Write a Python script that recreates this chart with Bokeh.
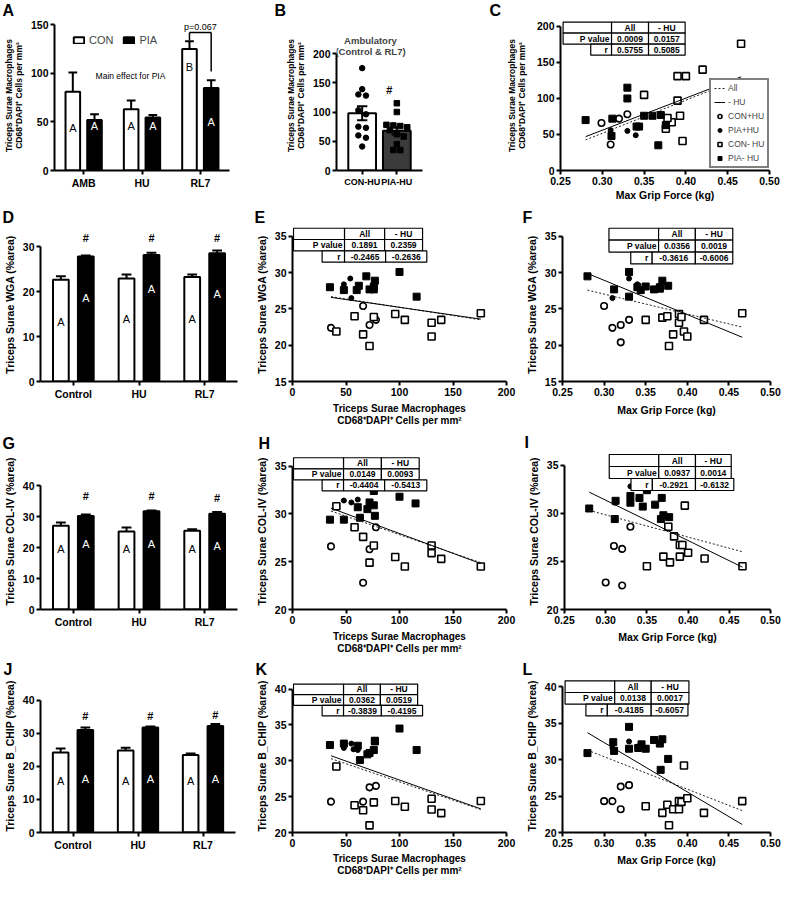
from bokeh.plotting import figure
from bokeh.models import (ColumnDataSource, FactorRange, Range1d, FixedTicker, Label,
                          Legend, LegendItem, NumeralTickFormatter)
from bokeh.transform import dodge
from bokeh.layouts import row, column
from bokeh.embed import file_html
from bokeh.resources import INLINE
from bokeh.core.properties import value

FONT = "Liberation Sans"
PAGE_W = 782

# ------------------------------------------------------------------ texts
PANEL_LETTERS = ["A", "B", "C", "D", "E", "F", "G", "H", "I", "J", "K", "L"]
MACRO_TITLE = "Triceps Surae Macrophages\nCD68\u207aDAPI\u207a Cells per mm\u00b2"
GRIP_TITLE = "Max Grip Force (kg)"
WGA_TITLE = "Triceps Surae WGA (%area)"
COL_TITLE = "Triceps Surae COL-IV (%area)"
CHIP_TITLE = "Triceps Surae B_CHIP (%area)"
TABLE_HEAD = ["All", "- HU"]
TABLE_ROWS = ["P value", "r"]
GROUPS = ["CON+HU", "PIA+HU", "CON- HU", "PIA- HU"]
FIT_NAMES = ["All", "- HU"]
GRIP_TICKS = [0.25, 0.30, 0.35, 0.40, 0.45, 0.50]
MACRO_TICKS = [0, 50, 100, 150, 200]

# ------------------------------------------------------------------ panel A
A_cats = ["AMB", "HU", "RL7"]
A_con = [81, 63, 125]
A_con_sem = [20, 9, 8]
A_pia = [52, 54.5, 85]
A_pia_sem = [6, 2.5, 8]
A_con_letters = ["A", "A", "B"]
A_pia_letters = ["A", "A", "A"]
A_series = ["CON", "PIA"]
A_yticks = [0, 50, 100, 150]
A_note = "Main effect for PIA"
A_ptext = "p=0.067"

# ------------------------------------------------------------------ panel B
B_title = ["Ambulatory", "(Control & RL7)"]
B_cats = ["CON-HU", "PIA-HU"]
B_means = [98, 68]
B_sem = [12, 6.5]
B_con_pts = [175, 139, 130, 128, 103, 96, 75, 73, 60, 56, 41]
B_pia_pts = [115, 100, 78, 77, 76, 74, 69, 62, 58, 45, 35, 35]
B_yticks = [0, 50, 100, 150, 200]

# ------------------------------------------------------------------ panel C (grip vs macrophages)
C_conhu_x = [0.299, 0.310, 0.320, 0.330]
C_conhu_y = [66, 36, 72, 78]
C_piahu_x = [0.310, 0.330, 0.340]
C_piahu_y = [56, 55, 49]
C_con_x = [0.466, 0.420, 0.390, 0.400, 0.350, 0.390, 0.393, 0.383, 0.378, 0.376, 0.396]
C_con_y = [176, 140, 131, 131, 105, 97, 76, 67, 73, 58, 41]
C_pia_x = [0.280, 0.312, 0.311, 0.330, 0.330, 0.350, 0.360, 0.370, 0.367, 0.341, 0.344, 0.376]
C_pia_y = [70, 72, 48, 115, 100, 76, 76, 77, 35, 61, 61, 63]
C_fit_x = [0.28, 0.466]
C_fit_all = [42.5, 128]
C_fit_nohu = [47, 130]
C_p = ["0.0009", "0.0157"]
C_r = ["0.5755", "0.5085"]

# ------------------------------------------------------------------ panel D (WGA bars)
BAR_CATS = ["Control", "HU", "RL7"]
D_con = [22.6, 22.9, 23.2]
D_con_sem = [0.8, 0.9, 0.6]
D_pia = [27.8, 28.1, 28.5]
D_pia_sem = [0.2, 0.5, 0.6]
D_yticks = [0, 10, 20, 30]

# ------------------------------------------------------------------ panel E (macrophages vs WGA)
E_conhu_x = [36, 66, 72, 78]
E_conhu_y = [22.4, 25.4, 22.8, 23.5]
E_piahu_x = [48, 54, 55]
E_piahu_y = [28.4, 29.2, 26.5]
E_con_x = [41, 58, 66, 72, 76, 96, 105, 130, 130, 139, 176]
E_con_y = [21.9, 24.0, 21.5, 19.9, 23.9, 24.3, 23.5, 23.1, 21.2, 23.5, 24.4]
E_pia_x = [35, 48, 60, 62, 69, 72, 76, 77, 76, 100, 116]
E_pia_y = [28.0, 27.6, 27.6, 28.2, 29.5, 27.7, 27.7, 28.9, 28.1, 30.1, 26.7]
E_fit_x = [36, 176]
E_fit_all = [26.7, 23.5]
E_fit_nohu = [26.6, 23.6]
E_p = ["0.1891", "0.2359"]
E_r = ["-0.2465", "-0.2636"]
WGA_TICKS = [15, 20, 25, 30, 35]

# ------------------------------------------------------------------ panel F (grip vs WGA)
F_conhu_x = [0.300, 0.310, 0.320, 0.320, 0.330]
F_conhu_y = [25.4, 22.4, 22.8, 20.4, 23.5]
F_piahu_x = [0.310, 0.330, 0.340]
F_piahu_y = [26.5, 29.2, 28.4]
F_con_x = [0.350, 0.370, 0.376, 0.383, 0.378, 0.390, 0.390, 0.393, 0.396, 0.400, 0.420, 0.466]
F_con_y = [23.5, 23.8, 24.0, 21.5, 19.9, 24.3, 23.1, 23.9, 21.9, 21.2, 23.5, 24.4]
F_pia_x = [0.280, 0.312, 0.330, 0.330, 0.340, 0.344, 0.350, 0.360, 0.367, 0.370, 0.377, 0.367]
F_pia_y = [29.5, 27.7, 30.1, 26.7, 28.0, 27.6, 28.1, 27.7, 28.0, 28.9, 28.2, 27.8]
F_fit_x = [0.28, 0.466]
F_fit_all = [27.6, 22.5]
F_fit_nohu = [29.9, 21.1]
F_p = ["0.0356", "0.0019"]
F_r = ["-0.3616", "-0.6006"]

# ------------------------------------------------------------------ panel G (COL-IV bars)
G_con = [27.0, 25.2, 25.4]
G_con_sem = [1.1, 1.3, 0.5]
G_pia = [30.2, 31.7, 30.9]
G_pia_sem = [0.5, 0.3, 0.6]
BAR40_TICKS = [0, 10, 20, 30, 40]

# ------------------------------------------------------------------ panel H (macrophages vs COL-IV)
H_conhu_x = [36, 66, 72, 78]
H_conhu_y = [26.6, 22.8, 26.3, 28.6]
H_piahu_x = [48, 55, 61]
H_piahu_y = [31.4, 31.2, 31.5]
H_con_x = [41, 58, 66, 72, 76, 96, 105, 130, 130, 139, 176]
H_con_y = [30.8, 28.6, 27.6, 24.9, 26.7, 25.5, 24.5, 26.7, 25.9, 25.3, 24.5]
H_pia_x = [35, 48, 61, 63, 70, 72, 76, 77, 76, 100, 115]
H_pia_y = [29.4, 29.4, 30.7, 29.6, 30.5, 31.2, 30.9, 29.8, 32.4, 31.8, 31.1]
H_fit_x = [36, 176]
H_fit_all = [30.3, 24.9]
H_fit_nohu = [30.6, 24.8]
H_p = ["0.0149", "0.0093"]
H_r = ["-0.4404", "-0.5413"]
COL_TICKS = [20, 25, 30, 35]

# ------------------------------------------------------------------ panel I (grip vs COL-IV)
I_conhu_x = [0.300, 0.310, 0.320, 0.320, 0.330]
I_conhu_y = [22.8, 26.6, 26.3, 22.5, 28.6]
I_piahu_x = [0.311, 0.330, 0.340]
I_piahu_y = [31.1, 32.8, 31.5]
I_con_x = [0.350, 0.370, 0.376, 0.378, 0.383, 0.390, 0.393, 0.390, 0.396, 0.400, 0.420, 0.466]
I_con_y = [24.5, 25.5, 28.6, 24.9, 27.6, 26.7, 26.7, 25.5, 30.8, 25.9, 25.3, 24.5]
I_pia_x = [0.280, 0.312, 0.311, 0.330, 0.330, 0.341, 0.345, 0.350, 0.360, 0.368, 0.370, 0.367, 0.377]
I_pia_y = [30.5, 31.3, 29.4, 31.8, 31.1, 31.6, 30.7, 32.4, 30.9, 31.6, 29.8, 29.4, 29.6]
I_fit_x = [0.28, 0.466]
I_fit_all = [30.3, 26.0]
I_fit_nohu = [32.2, 24.4]
I_p = ["0.0937", "0.0014"]
I_r = ["-0.2921", "-0.6132"]

# ------------------------------------------------------------------ panel J (B_CHIP bars)
J_con = [24.2, 24.8, 23.4]
J_con_sem = [1.2, 0.8, 0.5]
J_pia = [31.0, 31.7, 32.2]
J_pia_sem = [0.7, 0.3, 0.6]

# ------------------------------------------------------------------ panel K (macrophages vs B_CHIP)
K_conhu_x = [36, 66, 72, 78]
K_conhu_y = [24.3, 24.3, 26.3, 26.5]
K_piahu_x = [48, 55, 57, 61]
K_piahu_y = [31.8, 32.4, 31.6, 31.5]
K_con_x = [41, 58, 66, 72, 76, 96, 105, 130, 130, 139, 176]
K_con_y = [29.2, 23.8, 23.1, 21.0, 24.2, 24.4, 23.6, 24.7, 23.2, 22.7, 24.4]
K_pia_x = [35, 48, 61, 63, 70, 72, 76, 77, 77, 100, 116]
K_pia_y = [32.2, 32.4, 32.1, 30.1, 30.9, 31.1, 31.5, 32.7, 32.8, 34.5, 31.5]
K_fit_x = [36, 176]
K_fit_all = [30.3, 23.2]
K_fit_nohu = [30.7, 23.3]
K_p = ["0.0362", "0.0519"]
K_r = ["-0.3839", "-0.4195"]
CHIP_TICKS = [20, 25, 30, 35, 40]

# ------------------------------------------------------------------ panel L (grip vs B_CHIP)
L_conhu_x = [0.300, 0.310, 0.320, 0.320, 0.330]
L_conhu_y = [24.3, 24.3, 26.3, 23.2, 26.5]
L_piahu_x = [0.310, 0.330, 0.340]
L_piahu_y = [31.6, 32.5, 31.8]
L_con_x = [0.350, 0.370, 0.376, 0.378, 0.383, 0.390, 0.390, 0.393, 0.396, 0.400, 0.420, 0.466]
L_con_y = [23.6, 22.7, 23.8, 21.0, 23.2, 24.3, 23.2, 24.2, 29.2, 24.7, 22.7, 24.3]
L_pia_x = [0.280, 0.311, 0.312, 0.330, 0.330, 0.341, 0.345, 0.350, 0.360, 0.367, 0.370, 0.377, 0.368]
L_pia_y = [30.9, 32.4, 31.2, 34.5, 31.5, 31.6, 32.1, 31.5, 32.7, 32.2, 32.8, 30.1, 28.6]
L_fit_x = [0.28, 0.466]
L_fit_all = [31.3, 23.0]
L_fit_nohu = [33.7, 21.1]
L_p = ["0.0138", "0.0017"]
L_r = ["-0.4185", "-0.6057"]


# ================================================================== helpers
def make_panel(w, h, ox, oy, Lr, Rr, Br, ycal, xcal=None, xlim=None, cats=None, R_local=None):
    """Frame spans from the top of the figure (ref y = oy) down to the x axis at ref y = Br."""
    (py1, v1), (py2, v2) = ycal
    upp = (v2 - v1) / (py1 - py2)
    y0 = v1 + (py1 - Br) * upp
    B = int(round(Br - oy))

    def Y(ry):
        return y0 + (Br - ry) * upp

    if cats is not None:
        n = len(cats)

        def X(rx):
            return (rx - Lr) / (Rr - Lr) * n
        x_range = FactorRange(factors=list(cats))
    elif xlim is not None:
        def X(rx):
            return xlim[0] + (rx - Lr) / (Rr - Lr) * (xlim[1] - xlim[0])
        x_range = Range1d(*xlim)
    else:
        (px1, u1), (px2, u2) = xcal

        def X(rx):
            return u1 + (rx - px1) * (u2 - u1) / (px2 - px1)
        x_range = Range1d(X(Lr), X(Rr))
    L = int(round(Lr - ox))
    R = int(round(R_local if R_local is not None else Rr - ox))
    y_range = Range1d(y0, y0 + B * upp)
    p = figure(width=w, height=h, x_range=x_range, y_range=y_range, title=None,
               output_backend="svg", toolbar_location=None,
               min_border_left=L, min_border_right=w - R,
               min_border_top=0, min_border_bottom=h - B)
    p.xgrid.visible = False
    p.ygrid.visible = False
    p.outline_line_color = None
    for ax in p.axis:
        ax.axis_line_width = 2
        ax.axis_line_color = "black"
        ax.major_tick_line_width = 2
        ax.major_tick_line_color = "black"
        ax.major_tick_out = 4
        ax.major_tick_in = 0
        ax.minor_tick_line_color = None
        ax.major_label_text_font = FONT
        ax.major_label_text_font_style = "bold"
        ax.major_label_text_font_size = "10.5px"
        ax.major_label_text_color = "black"
        ax.major_label_standoff = 2
        ax.axis_label_text_font = FONT
        ax.axis_label_text_font_style = "bold"
        ax.axis_label_text_font_size = "10.5px"
        ax.axis_label_text_color = "black"
        ax.axis_label_standoff = 4
        ax.axis_label_text_line_height = 1.1
    return p, X, Y


def letter_strip(h, letters, xs, ys):
    p = figure(width=PAGE_W, height=h, x_range=Range1d(0, PAGE_W), y_range=Range1d(h, 0),
               title=None, output_backend="svg", toolbar_location=None,
               x_axis_location=None, y_axis_location=None, min_border=0)
    p.xgrid.visible = False
    p.ygrid.visible = False
    p.outline_line_color = None
    p.text(x=xs, y=ys, text=letters, text_font=value(FONT), text_font_size=value("16px"),
           text_font_style=value("bold"), text_color="black", text_align=value("left"),
           text_baseline=value("top"))
    return p


def put_text(p, xs, ys, texts, size="8px", style="normal", color="black", align="center"):
    p.text(x=xs, y=ys, text=texts, text_font=value(FONT), text_font_size=value(size),
           text_font_style=value(style), text_color=color, text_align=value(align),
           text_baseline=value("middle"))


def draw_bars(p, cats, con, con_sem, pia, pia_sem, con_lab, pia_lab, con_ly, pia_ly,
              hash_y=None, off=0.19, bw=0.24, cw=0.075):
    n = len(cats)
    src = ColumnDataSource(dict(
        cat=list(cats), con=con, pia=pia,
        con_hi=[m + s for m, s in zip(con, con_sem)],
        pia_hi=[m + s for m, s in zip(pia, pia_sem)],
        con_lab=con_lab, pia_lab=pia_lab, con_ly=con_ly, pia_ly=pia_ly,
        hash_y=hash_y if hash_y is not None else [0] * n,
        hash=["#"] * n if hash_y is not None else [""] * n))

    def d(o):
        return dodge("cat", o, range=p.x_range)
    rc = p.vbar(x=d(-off), top="con", bottom=0, width=bw, source=src,
                fill_color="white", line_color="black", line_width=2)
    rp = p.vbar(x=d(off), top="pia", bottom=0, width=bw, source=src,
                fill_color="black", line_color="black", line_width=2)
    for o, m, hi in ((-off, "con", "con_hi"), (off, "pia", "pia_hi")):
        p.segment(x0=d(o), x1=d(o), y0=m, y1=hi, source=src, line_color="black", line_width=2)
        p.segment(x0=d(o - cw), x1=d(o + cw), y0=hi, y1=hi, source=src,
                  line_color="black", line_width=2)
    for o, col, ly, color in ((-off, "con_lab", "con_ly", "black"), (off, "pia_lab", "pia_ly", "white")):
        p.text(x=d(o), y=ly, text=col, source=src, text_font=value(FONT),
               text_font_size=value("11px"), text_color=color,
               text_align=value("center"), text_baseline=value("middle"))
    p.text(x=d(off), y="hash_y", text="hash", source=src, text_font=value(FONT),
           text_font_size=value("11px"), text_font_style=value("bold"), text_color="black",
           text_align=value("center"), text_baseline=value("middle"))
    return rc, rp


STYLE = {
    "CON+HU": dict(marker="circle", size=6.5, fill_color="white", line_color="black", line_width=1.6),
    "PIA+HU": dict(marker="circle", size=5, fill_color="black", line_color="black", line_width=1),
    "CON- HU": dict(marker="square", size=7, fill_color="white", line_color="black", line_width=1.6),
    "PIA- HU": dict(marker="square", size=7, fill_color="black", line_color="black", line_width=1),
}


def draw_scatter(p, series, fit_x, fit_all, fit_nohu):
    rs = []
    for name, xs, ys in zip(GROUPS, series[0::2], series[1::2]):
        rs.append(p.scatter(xs, ys, **STYLE[name]))
    r_all = p.line(fit_x, fit_all, line_color="#222222", line_width=1, line_dash="2 2")
    r_nohu = p.line(fit_x, fit_nohu, line_color="black", line_width=1)
    return rs, r_all, r_nohu


def draw_table(p, X, Y, left, top, rowh, upper, redges, pvals, rvals):
    ls, rs_, ts, bs = [], [], [], []
    for ri, edges in ((0, upper), (1, upper), (2, redges)):
        for c in range(3):
            ls.append(X(left + edges[c]))
            rs_.append(X(left + edges[c + 1]))
            ts.append(Y(top + ri * rowh))
            bs.append(Y(top + (ri + 1) * rowh))
    p.quad(left=ls, right=rs_, top=ts, bottom=bs, fill_color="white",
           line_color="black", line_width=1.2)

    def cx(e, a, b):
        return X(left + (e[a] + e[b]) / 2.0)

    def cy(ri):
        return Y(top + (ri + 0.5) * rowh)
    xs = [cx(upper, 1, 2), cx(upper, 2, 3), cx(upper, 1, 2), cx(upper, 2, 3),
          cx(redges, 1, 2), cx(redges, 2, 3)]
    ys = [cy(0), cy(0), cy(1), cy(1), cy(2), cy(2)]
    put_text(p, xs, ys, TABLE_HEAD + list(pvals) + list(rvals), size="8.5px", style="bold")
    put_text(p, [X(left + upper[1] - 2), X(left + redges[1] - 4)], [cy(1), cy(2)],
             TABLE_ROWS, size="8.5px", style="bold", align="right")


def spread(vals, tol=8.0, step=0.2, maxk=4):
    order = sorted(range(len(vals)), key=lambda i: -vals[i])
    clusters = [[order[0]]]
    for i in order[1:]:
        cur = clusters[-1]
        if len(cur) < maxk and vals[cur[-1]] - vals[i] < tol:
            cur.append(i)
        else:
            clusters.append([i])
    offs = [0.0] * len(vals)
    for cl in clusters:
        k = len(cl)
        for j, i in enumerate(cl):
            offs[i] = (j - (k - 1) / 2.0) * step
    return offs


def grip_axes(p, standoff=4):
    p.xaxis.ticker = FixedTicker(ticks=GRIP_TICKS)
    p.xaxis.formatter = NumeralTickFormatter(format="0.00")
    p.xaxis.axis_label = GRIP_TITLE
    p.xaxis.axis_label_standoff = standoff


def macro_axes(p, standoff=3, line_height=1.1):
    p.xaxis.ticker = FixedTicker(ticks=MACRO_TICKS)
    p.xaxis.axis_label = MACRO_TITLE
    p.xaxis.axis_label_standoff = standoff
    p.xaxis.axis_label_text_font_size = "10px"
    p.xaxis.axis_label_text_line_height = line_height


def y_axis(p, ticks, title):
    p.yaxis.ticker = FixedTicker(ticks=ticks)
    p.yaxis.bounds = (ticks[0], ticks[-1])
    p.yaxis.axis_label = title


def c_legend(p, rs, r_all, r_nohu, loc):
    items = [LegendItem(label=FIT_NAMES[0], renderers=[r_all]),
             LegendItem(label=FIT_NAMES[1], renderers=[r_nohu])]
    items += [LegendItem(label=g, renderers=[r]) for g, r in zip(GROUPS, rs)]
    leg = Legend(items=items, location=loc)
    leg.border_line_color = "black"
    leg.border_line_width = 2
    leg.background_fill_color = "white"
    leg.background_fill_alpha = 1.0
    leg.label_text_font = FONT
    leg.label_text_font_size = "8.5px"
    leg.glyph_width = 11
    leg.glyph_height = 10
    leg.label_height = 10
    leg.label_standoff = 3
    leg.spacing = 4
    leg.padding = 3
    leg.margin = 0
    p.add_layout(leg)


# ================================================================== letter strips
strip1 = letter_strip(20, PANEL_LETTERS[0:3], [2, 274, 489], [1, 1, 1])
strip2 = letter_strip(22, PANEL_LETTERS[3:6], [2, 254, 522], [3, 3, 3])
strip3 = letter_strip(22, PANEL_LETTERS[6:9], [2, 258, 524], [3, 3, 2])
strip4 = letter_strip(20, PANEL_LETTERS[9:12], [3, 255, 522], [1, 1, 1.5])

# ================================================================== row 1 (ref y 20..205)
pA, XA, YA = make_panel(241, 185, 1, 20, 48, 230, 171, ycal=((171, 0), (24.3, 150)), cats=A_cats)
y_axis(pA, A_yticks, MACRO_TITLE)
pA.yaxis.axis_label_text_font_size = "8.5px"
pA.yaxis.axis_label_text_line_height = 1.0
rcA, rpA = draw_bars(pA, A_cats, A_con, A_con_sem, A_pia, A_pia_sem, A_con_letters, A_pia_letters,
                     [44, 46, 107], [46, 46, 50], off=0.186, bw=0.25, cw=0.075)
ri = A_cats.index("RL7") + 0.5
pA.segment(x0=[ri - 0.186, ri - 0.186, ri + 0.186], x1=[ri + 0.186, ri - 0.186, ri + 0.186],
           y0=[142, 142, 142], y1=[142, 134, 102], line_color="black", line_width=1.5)
put_text(pA, [ri], [147.5], [A_ptext], size="9px")
put_text(pA, [XA(127)], [YA(76)], [A_note], size="8.5px")
legA = Legend(items=[LegendItem(label=A_series[0], renderers=[rcA]),
                     LegendItem(label=A_series[1], renderers=[rpA])],
              orientation="horizontal", location=(18, 124))
legA.label_text_font = FONT
legA.label_text_font_size = "11px"
legA.glyph_width = 13
legA.glyph_height = 8
legA.label_height = 11
legA.label_standoff = 4
legA.spacing = 9
legA.padding = 0
legA.margin = 0
legA.border_line_color = None
legA.background_fill_alpha = 0
pA.add_layout(legA)

pB, XB, YB = make_panel(247, 185, 249, 20, 344, 430, 170.3, ycal=((170.3, 0), (53.3, 200)),
                        xlim=(-0.24, 2.24))
y_axis(pB, B_yticks, MACRO_TITLE)
pB.yaxis.axis_label_text_font_size = "8.5px"
pB.yaxis.axis_label_text_line_height = 1.0
b_cx = [i + 0.5 for i in range(len(B_cats))]
pB.xaxis.ticker = FixedTicker(ticks=b_cx)
pB.xaxis.major_label_overrides = {c: lab for c, lab in zip(b_cx, B_cats)}
pB.xaxis.major_label_text_font_size = "9px"
pB.vbar(x=b_cx, top=B_means, width=0.8, fill_color=["white", "#3b3b3b"],
        line_color="black", line_width=2)
pB.scatter([b_cx[0] + o for o in spread(B_con_pts, step=0.22)], B_con_pts,
           marker="circle", size=5.5, color="black")
pB.scatter([b_cx[1] + o for o in spread(B_pia_pts, step=0.2)], B_pia_pts,
           marker="square", size=5.5, color="black")
b_lo = [m - s for m, s in zip(B_means, B_sem)]
b_hi = [m + s for m, s in zip(B_means, B_sem)]
pB.segment(x0=b_cx, x1=b_cx, y0=b_lo, y1=b_hi, line_color="black", line_width=2)
pB.segment(x0=[c - 0.15 for c in b_cx] * 2, x1=[c + 0.15 for c in b_cx] * 2,
           y0=b_lo + b_hi, y1=b_lo + b_hi, line_color="black", line_width=2)
put_text(pB, [XB(396.7)], [YB(90)], ["#"], size="11px", style="bold")
for t, ry in zip(B_title, (40, 51)):
    pB.add_layout(Label(x=XB(378), y=YB(ry), text=t, text_font=FONT, text_font_size="9.5px",
                        text_font_style="bold", text_align="center", text_baseline="middle"))

pC, XC, YC = make_panel(294, 185, 496, 20, 568, 785, 170.7, ycal=((170.7, 0), (25.7, 200)),
                        xcal=((568, 0.25), (785, 0.50)), R_local=281)
y_axis(pC, MACRO_TICKS, MACRO_TITLE)
pC.yaxis.axis_label_text_font_size = "8.5px"
pC.yaxis.axis_label_text_line_height = 1.0
pC.yaxis.axis_label_standoff = 7
grip_axes(pC, standoff=1)
rsC, raC, rnC = draw_scatter(pC, [C_conhu_x, C_conhu_y, C_piahu_x, C_piahu_y,
                                  C_con_x, C_con_y, C_pia_x, C_pia_y],
                             C_fit_x, C_fit_all, C_fit_nohu)
draw_table(pC, XC, YC, 570.7, 21.3, 11.1, [0, 50.3, 88.7, 126.7], [28.7, 50.3, 88.7, 126.7], C_p, C_r)
c_legend(pC, rsC, raC, rnC, (149, 2))

# ================================================================== row 2 (ref y 228..432)
pD, XD, YD = make_panel(252, 204, 0, 228, 29, 237, 381.7, ycal=((381.7, 0), (246.7, 30)), cats=BAR_CATS)
y_axis(pD, D_yticks, WGA_TITLE)
draw_bars(pD, BAR_CATS, D_con, D_con_sem, D_pia, D_pia_sem, ["A"] * 3, ["A"] * 3,
          [13.2, 13.8, 13.8], [18.5, 20.5, 19.5], hash_y=[32.0, 32.0, 32.0])

pE, XE, YE = make_panel(268, 204, 256, 228, 293.3, 510, 383.3, ycal=((383.3, 15), (237.3, 35)),
                        xcal=((293.3, 0), (510, 200)))
y_axis(pE, WGA_TICKS, WGA_TITLE)
macro_axes(pE, standoff=4, line_height=1.15)
draw_scatter(pE, [E_conhu_x, E_conhu_y, E_piahu_x, E_piahu_y, E_con_x, E_con_y, E_pia_x, E_pia_y],
             E_fit_x, E_fit_all, E_fit_nohu)
draw_table(pE, XE, YE, 294.3, 229, 11.4, [0, 51.7, 92.3, 130.7], [29, 51.7, 93.3, 135], E_p, E_r)

pF, XF, YF = make_panel(262, 204, 526, 228, 568.3, 785, 383.3, ycal=((383.3, 15), (237.3, 35)),
                        xcal=((568.3, 0.25), (785, 0.50)), R_local=250)
y_axis(pF, WGA_TICKS, WGA_TITLE)
grip_axes(pF, standoff=5)
draw_scatter(pF, [F_conhu_x, F_conhu_y, F_piahu_x, F_piahu_y, F_con_x, F_con_y, F_pia_x, F_pia_y],
             F_fit_x, F_fit_all, F_fit_nohu)
draw_table(pF, XF, YF, 616.7, 229, 12, [0, 51.7, 90, 129], [22.7, 45, 90, 129], F_p, F_r)

# ================================================================== row 3 (ref y 459..665)
pG, XG, YG = make_panel(252, 206, 0, 459, 30, 237, 615.7, ycal=((615.7, 0), (491, 40)), cats=BAR_CATS)
y_axis(pG, BAR40_TICKS, COL_TITLE)
draw_bars(pG, BAR_CATS, G_con, G_con_sem, G_pia, G_pia_sem, ["A"] * 3, ["A"] * 3,
          [19.5, 19.5, 19.5], [21, 21, 20.5], hash_y=[36.5, 36.5, 36.0])

pH, XH, YH = make_panel(268, 206, 256, 459, 293.3, 510, 616, ycal=((616, 20), (471.7, 35)),
                        xcal=((293.3, 0), (510, 200)))
y_axis(pH, COL_TICKS, COL_TITLE)
macro_axes(pH, standoff=4, line_height=1.15)
draw_scatter(pH, [H_conhu_x, H_conhu_y, H_piahu_x, H_piahu_y, H_con_x, H_con_y, H_pia_x, H_pia_y],
             H_fit_x, H_fit_all, H_fit_nohu)
draw_table(pH, XH, YH, 294.3, 463.3, 11.1, [0, 50.7, 89, 127.3], [29, 50.7, 92.3, 135], H_p, H_r)

pI, XI, YI = make_panel(262, 206, 526, 459, 570, 785, 615, ycal=((615, 20), (470.7, 35)),
                        xcal=((570, 0.25), (785, 0.50)), R_local=250)
y_axis(pI, COL_TICKS, COL_TITLE)
grip_axes(pI)
draw_scatter(pI, [I_conhu_x, I_conhu_y, I_piahu_x, I_piahu_y, I_con_x, I_con_y, I_pia_x, I_pia_y],
             I_fit_x, I_fit_all, I_fit_nohu)
draw_table(pI, XI, YI, 616.7, 460, 12, [0, 51.7, 90, 127.3], [22.7, 45, 90, 130], I_p, I_r)

# ================================================================== row 4 (ref y 694..894)
pJ, XJ, YJ = make_panel(252, 200, 0, 694, 32, 235, 846.7, ycal=((846.7, 0), (714.3, 40)), cats=BAR_CATS)
y_axis(pJ, BAR40_TICKS, CHIP_TITLE)
draw_bars(pJ, BAR_CATS, J_con, J_con_sem, J_pia, J_pia_sem, ["A"] * 3, ["A"] * 3,
          [15.5, 15.5, 15.5], [16.2, 16.2, 16.2], hash_y=[35.3, 35.3, 35.6])

pK, XK, YK = make_panel(268, 200, 256, 694, 293.3, 510, 846.7, ycal=((846.7, 20), (703.3, 40)),
                        xcal=((293.3, 0), (510, 200)))
y_axis(pK, CHIP_TICKS, CHIP_TITLE)
macro_axes(pK, standoff=3, line_height=1.1)
draw_scatter(pK, [K_conhu_x, K_conhu_y, K_piahu_x, K_piahu_y, K_con_x, K_con_y, K_pia_x, K_pia_y],
             K_fit_x, K_fit_all, K_fit_nohu)
draw_table(pK, XK, YK, 294.3, 698.3, 10.6, [0, 50.7, 88, 125.7], [29, 50.7, 89, 130.7], K_p, K_r)

pL, XL, YL = make_panel(262, 200, 526, 694, 568.3, 785, 846.7, ycal=((846.7, 20), (701, 40)),
                        xcal=((568.3, 0.25), (785, 0.50)), R_local=250)
y_axis(pL, CHIP_TICKS, CHIP_TITLE)
grip_axes(pL)
draw_scatter(pL, [L_conhu_x, L_conhu_y, L_piahu_x, L_piahu_y, L_con_x, L_con_y, L_pia_x, L_pia_y],
             L_fit_x, L_fit_all, L_fit_nohu)
draw_table(pL, XL, YL, 571, 695, 11.7, [0, 51.7, 89.7, 129], [21.7, 44, 89.7, 128], L_p, L_r)

layout = column(strip1, row(pA, pB, pC), strip2, row(pD, pE, pF),
                strip3, row(pG, pH, pI), strip4, row(pJ, pK, pL))
open("out.html", "w").write(file_html(layout, INLINE))
